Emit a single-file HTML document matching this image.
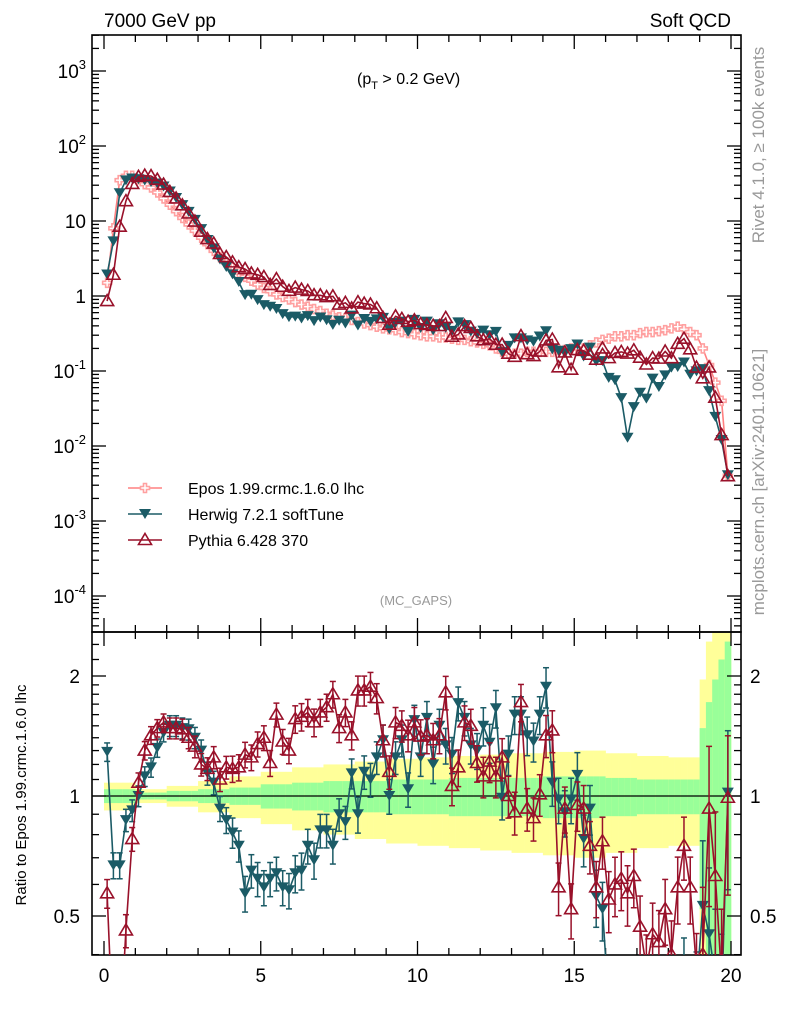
<!DOCTYPE html>
<html><head><meta charset="utf-8"><style>
html,body{margin:0;padding:0;background:#fff;overflow:hidden;width:786px;height:1024px}
svg{display:block;font-family:"Liberation Sans",sans-serif}
</style></head><body>
<svg id="c" width="786" height="1024" viewBox="0 0 786 1024" xmlns="http://www.w3.org/2000/svg">
<defs>
<clipPath id="cm"><rect x="92" y="35" width="649" height="597"/></clipPath>
<clipPath id="cr"><rect x="92" y="632" width="649" height="323"/></clipPath>
</defs>
<g id="bands" clip-path="url(#cr)"></g>
<g id="axes"></g>
<g id="series"></g>
<text x="104" y="27" font-size="19">7000 GeV pp</text>
<text x="731" y="27" font-size="19" text-anchor="end">Soft QCD</text>
<text x="357" y="84" font-size="16">(p<tspan font-size="11" dy="5">T</tspan><tspan dy="-5"> &gt; 0.2 GeV)</tspan></text>
<text x="416" y="605" font-size="13" fill="#999" text-anchor="middle">(MC_GAPS)</text>
<text transform="translate(764,145) rotate(-90)" font-size="17" fill="#999" text-anchor="middle">Rivet 4.1.0, ≥ 100k events</text>
<text transform="translate(764,482) rotate(-90)" font-size="17" fill="#999" text-anchor="middle">mcplots.cern.ch [arXiv:2401.10621]</text>
<text transform="translate(26,795) rotate(-90)" font-size="15" text-anchor="middle">Ratio to Epos 1.99.crmc.1.6.0 lhc</text>
<g id="legend"></g>
</svg>
<script>
const xCenters=[];for(let i=0;i<100;i++)xCenters.push(+(0.1+0.2*i).toFixed(1));
const eposVals=[1.5,8,35,40,40,36,31,28,24,20,16.5,13.5,11,9,7.4,6,4.9,4.0,3.3,2.8,2.4,2.05,1.8,1.6,1.42,1.28,1.16,1.05,0.97,0.9,0.83,0.77,0.72,0.67,0.63,0.58,0.55,0.52,0.5,0.48,0.45,0.43,0.41,0.39,0.37,0.36,0.35,0.33,0.32,0.31,0.3,0.29,0.29,0.28,0.28,0.27,0.26,0.26,0.25,0.24,0.23,0.22,0.2,0.18,0.17,0.17,0.17,0.18,0.18,0.18,0.18,0.18,0.19,0.19,0.2,0.2,0.2,0.22,0.24,0.26,0.27,0.29,0.29,0.3,0.3,0.32,0.33,0.33,0.34,0.35,0.37,0.39,0.36,0.33,0.3,0.2,0.12,0.07,0.04,0.004];
const herwigRatio=[1.29,0.67,0.67,0.87,0.92,1.0,1.12,1.18,1.32,1.44,1.5,1.5,1.48,1.47,1.4,1.3,1.14,1.08,0.93,0.87,0.81,0.75,0.57,0.65,0.62,0.59,0.62,0.64,0.59,0.58,0.64,0.65,0.75,0.69,0.82,0.82,0.75,0.9,0.86,1.14,0.9,1.15,1.1,1.25,1.38,1.0,1.25,1.38,1.04,1.55,1.25,1.57,1.2,1.5,1.34,1.27,1.71,1.57,1.34,1.3,1.5,1.36,1.66,0.99,1.27,1.6,1.6,1.42,1.37,1.6,1.88,1.08,0.98,0.91,0.98,1.13,0.78,0.93,0.56,0.52,0.3,0.26,0.15,0.043,0.11,0.16,0.13,0.24,0.18,0.25,0.3,0.29,0.36,0.27,0.33,0.53,0.45,0.35,0.3,1.02];
const pythiaRatio=[0.57,0.24,0.24,0.46,0.78,1.08,1.3,1.42,1.48,1.53,1.48,1.48,1.47,1.4,1.33,1.2,1.17,1.25,1.1,1.18,1.17,1.18,1.27,1.25,1.35,1.4,1.21,1.6,1.37,1.3,1.56,1.58,1.62,1.53,1.62,1.67,1.8,1.48,1.62,1.42,1.84,1.84,1.88,1.76,1.38,1.15,1.53,1.5,1.42,1.53,1.41,1.42,1.38,1.42,1.82,1.06,1.18,1.53,1.5,1.21,1.12,1.22,1.12,1.25,1.0,0.91,1.72,0.93,0.88,1.01,1.42,1.46,0.59,0.93,0.52,0.95,0.93,0.75,0.59,0.77,0.55,0.6,0.62,0.57,0.63,0.47,0.37,0.45,0.43,0.52,0.4,0.59,0.75,0.59,0.37,0.4,0.93,0.63,0.35,0.99];
const ratioErr=[0.03,0.03,0.04,0.04,0.05,0.05,0.06,0.06,0.07,0.07,0.08,0.08,0.09,0.09,0.1,0.11,0.12,0.13,0.14,0.4];
const bandGreen=[0.04,0.02,0.03,0.04,0.05,0.07,0.08,0.09,0.09,0.1,0.1,0.11,0.11,0.11,0.12,0.12,0.11,0.1,0.1,0.3];
const bandYellow=[0.08,0.04,0.06,0.09,0.12,0.15,0.18,0.2,0.22,0.24,0.25,0.26,0.27,0.28,0.29,0.3,0.28,0.26,0.25,0.6];
const mainTicks=[3,2,1,0,-1,-2,-3,-4];
const ratioTicks=[0.5,1,2];
const xTicks=[0,5,10,15,20];

const NS='http://www.w3.org/2000/svg';
function mk(tag,attrs,parent){const e=document.createElementNS(NS,tag);for(const k in attrs)e.setAttribute(k,attrs[k]);parent.appendChild(e);return e;}
const X=v=>104+v*31.35;
const YM=v=>296-75*Math.log10(v);
const YR=r=>796-120*Math.log2(r);
const L=92,R=741,T=35,M=632,B=955;
const axes=document.getElementById('axes');
const bands=document.getElementById('bands');
const series=document.getElementById('series');
const legend=document.getElementById('legend');

for(let i=0;i<100;i++){
  const u=Math.min(19,Math.floor(xCenters[i]));
  const x0=X(xCenters[i]-0.1),w=31.35*0.2+0.3;
  const ey=bandYellow[u]*(i>=95?(i-93)*0.8:1), eg=bandGreen[u]*(i>=95?(i-93)*0.8:1);
  const ry=mk('rect',{x:x0,y:YR(1+ey),width:w,height:YR(Math.max(0.05,1-ey))-YR(1+ey),fill:'#ffff99'},bands);
  
  
  const rg=mk('rect',{x:x0,y:YR(1+eg),width:w,height:YR(Math.max(0.05,1-eg))-YR(1+eg),fill:'#99ff99'},bands);
  
  
}
const ref=mk('line',{x1:L,x2:R,y1:796,y2:796,stroke:'#000','stroke-width':1.3},bands);



for(const [y1,y2,n] of [[T,M,'main-frame'],[M,B,'ratio-frame']]){
  const f=mk('rect',{x:L,y:y1,width:R-L,height:y2-y1,fill:'none',stroke:'#000','stroke-width':1.6},axes);
  
  
}
for(let v=0;v<=20;v+=1){
  const len=v%5===0?14:7,x=X(v);
  for(const [y,d] of [[T,1],[M,-1],[M,1],[B,-1]]) mk('line',{x1:x,x2:x,y1:y,y2:y+d*len,stroke:'#000','stroke-width':1.3},axes);
}
xTicks.forEach(v=>{
  const t=mk('text',{x:X(v),y:982,'font-size':19,'text-anchor':'middle'},axes);t.textContent=v;
  
  
});
for(let d=-5;d<=3;d++)for(let m=1;m<10;m++){
  const y=YM(m*Math.pow(10,d));if(y<T||y>M)continue;
  const len=m===1?14:7;
  mk('line',{x1:L,x2:L+len,y1:y,y2:y,stroke:'#000','stroke-width':1.3},axes);
  mk('line',{x1:R,x2:R-len,y1:y,y2:y,stroke:'#000','stroke-width':1.3},axes);
}
mainTicks.forEach(d=>{
  const y=YM(Math.pow(10,d))+7;
  const t=mk('text',{x:86,y:y,'font-size':19,'text-anchor':'end'},axes);
  if(d===0)t.textContent='1';else if(d===1)t.textContent='10';
  else{t.textContent='10';const s=mk('tspan',{dy:-9,'font-size':13},t);s.textContent=d;}
  
  
});
[0.4,0.5,0.6,0.7,0.8,0.9,1,1.1,1.2,1.3,1.4,1.5,1.6,1.7,1.8,1.9,2,2.2,2.4].forEach(r=>{
  const y=YR(r);const len=(r===0.5||r===1||r===2)?14:7;
  mk('line',{x1:L,x2:L+len,y1:y,y2:y,stroke:'#000','stroke-width':1.3},axes);
  mk('line',{x1:R,x2:R-len,y1:y,y2:y,stroke:'#000','stroke-width':1.3},axes);
});
ratioTicks.forEach(r=>{
  const y=YR(r)+7;
  const a=mk('text',{x:80,y:y,'font-size':19,'text-anchor':'end'},axes);a.textContent=r;
  
  
  const b=mk('text',{x:750,y:y,'font-size':19},axes);b.textContent=r;
  
  
});

const cols={epos:'#ff7f7f',herwig:'#1b5b66',pythia:'#99112a'};
function marker(kind,x,y,g){
  if(kind==='epos'){
    return mk('path',{d:`M${x-1.5} ${y-4.5}h3v3h3v3h-3v3h-3v-3h-3v-3h3z`,fill:'#fff',stroke:'#ffa0a0','stroke-width':1.6},g);
  }else if(kind==='herwig'){
    return mk('path',{d:`M${x-6} ${y-5}h12l-6 10z`,fill:cols.herwig},g);
  }else{
    return mk('path',{d:`M${x} ${y-6.5}l6.5 11h-13z`,fill:'none',stroke:cols.pythia,'stroke-width':1.6},g);
  }
}
function drawSeries(kind,mainVals,ratios){
  const gm=mk('g',{'clip-path':'url(#cm)'},series);
  
  
  const gr=mk('g',{'clip-path':'url(#cr)'},series);
  
  
  const pm=mainVals.map((v,i)=>X(xCenters[i]).toFixed(1)+','+YM(v).toFixed(1)).join(' ');
  mk('polyline',{points:pm,fill:'none',stroke:kind==='epos'?'#ff8080':cols[kind],'stroke-width':1.6},gm);
  if(ratios){
    const pr=ratios.map((r,i)=>X(xCenters[i]).toFixed(1)+','+YR(Math.max(r,0.01)).toFixed(1)).join(' ');
    mk('polyline',{points:pr,fill:'none',stroke:cols[kind],'stroke-width':1.6},gr);
    ratios.forEach((r,i)=>{
      const u=Math.min(19,Math.floor(xCenters[i]));const e=ratioErr[u]*r+0.03;
      const x=X(xCenters[i]);const y1=YR(r+e),y2=YR(Math.max(r-e,0.01));
      mk('line',{x1:x,x2:x,y1:y1,y2:y2,stroke:cols[kind],'stroke-width':1.5},gr);
      mk('line',{x1:x-3,x2:x+3,y1:y1,y2:y1,stroke:cols[kind],'stroke-width':1.5},gr);
      mk('line',{x1:x-3,x2:x+3,y1:y2,y2:y2,stroke:cols[kind],'stroke-width':1.5},gr);
      const m=marker(kind,x,YR(r),gr);
      
      
    });
  }
  mainVals.forEach((v,i)=>{
    const m=marker(kind,X(xCenters[i]),YM(v),gm);
    
    
  });
}
const herwigVals=eposVals.map((v,i)=>v*herwigRatio[i]);
const pythiaVals=eposVals.map((v,i)=>v*pythiaRatio[i]);
drawSeries('epos',eposVals,null);
drawSeries('herwig',herwigVals,herwigRatio);
drawSeries('pythia',pythiaVals,pythiaRatio);

[['epos','Epos 1.99.crmc.1.6.0 lhc',488],['herwig','Herwig 7.2.1 softTune',514],['pythia','Pythia 6.428 370',540]].forEach(([k,txt,y])=>{
  const g=mk('g',{},legend);
  
  
  mk('line',{x1:128,x2:162,y1:y,y2:y,stroke:k==='epos'?'#ff8080':cols[k],'stroke-width':1.6},g);
  marker(k,145,y,g);
  const t=mk('text',{x:188,y:y+6,'font-size':16},g);t.textContent=txt;
});
</script>
</body></html>
